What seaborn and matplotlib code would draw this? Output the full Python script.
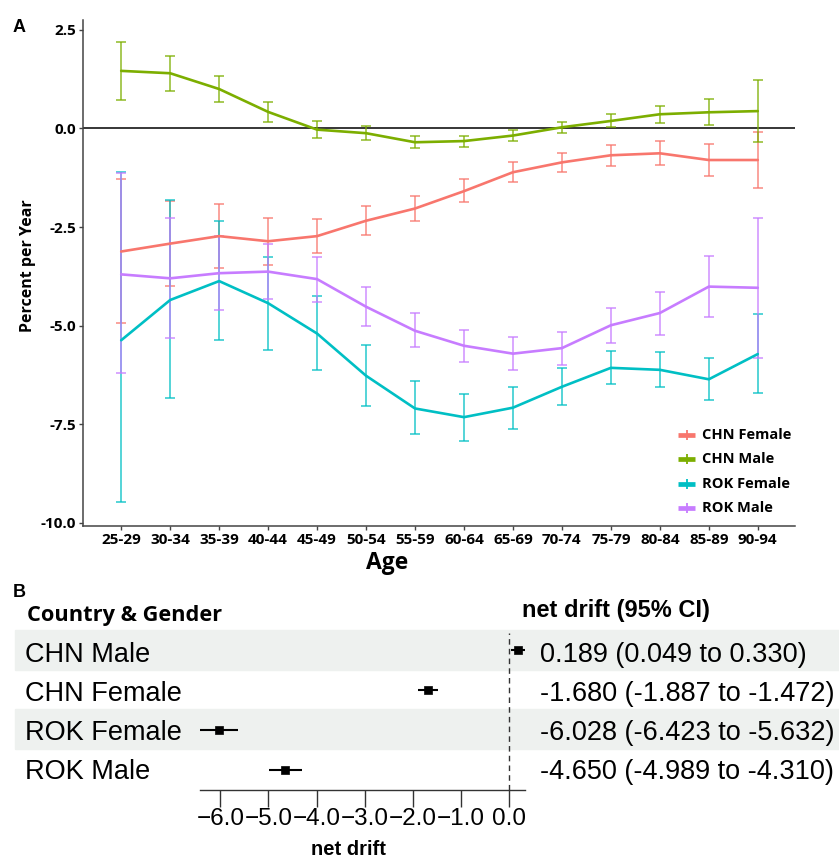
import numpy as np
import pandas as pd
import matplotlib
matplotlib.use('Agg')
import matplotlib.pyplot as plt
import seaborn as sns
from matplotlib.patches import Rectangle
from matplotlib.lines import Line2D

# ---------------- data: panel A ----------------
ages = ['25-29', '30-34', '35-39', '40-44', '45-49', '50-54', '55-59',
        '60-64', '65-69', '70-74', '75-79', '80-84', '85-89', '90-94']
groups = ['CHN Female', 'CHN Male', 'ROK Female', 'ROK Male']
colors = ['#F8766D', '#7CAE00', '#00BFC4', '#C77CFF']

chn_f_est = [-3.12, -2.92, -2.73, -2.86, -2.73, -2.34, -2.03, -1.59, -1.11, -0.86, -0.68, -0.63, -0.80, -0.80]
chn_f_lo  = [-4.93, -4.00, -3.53, -3.45, -3.17, -2.70, -2.35, -1.87, -1.36, -1.11, -0.95, -0.93, -1.20, -1.52]
chn_f_hi  = [-1.27, -1.84, -1.92, -2.27, -2.29, -1.97, -1.71, -1.29, -0.84, -0.61, -0.42, -0.33, -0.40, -0.08]

chn_m_est = [1.46, 1.40, 1.00, 0.42, -0.03, -0.12, -0.35, -0.32, -0.18, 0.03, 0.19, 0.36, 0.41, 0.44]
chn_m_lo  = [0.73, 0.96, 0.68, 0.17, -0.23, -0.30, -0.50, -0.46, -0.31, -0.12, 0.03, 0.14, 0.08, -0.35]
chn_m_hi  = [2.20, 1.84, 1.33, 0.68, 0.19, 0.05, -0.19, -0.19, -0.05, 0.16, 0.36, 0.56, 0.75, 1.23]

rok_f_est = [-5.37, -4.35, -3.87, -4.43, -5.20, -6.27, -7.10, -7.32, -7.08, -6.55, -6.07, -6.12, -6.36, -5.72]
rok_f_lo  = [-9.47, -6.83, -5.37, -5.61, -6.12, -7.04, -7.74, -7.92, -7.61, -7.01, -6.49, -6.55, -6.89, -6.72]
rok_f_hi  = [-1.10, -1.82, -2.34, -3.26, -4.26, -5.49, -6.41, -6.73, -6.55, -6.08, -5.65, -5.68, -5.83, -4.70]

rok_m_est = [-3.70, -3.80, -3.67, -3.63, -3.82, -4.52, -5.13, -5.51, -5.71, -5.57, -4.99, -4.68, -4.01, -4.04]
rok_m_lo  = [-6.21, -5.32, -4.61, -4.33, -4.39, -5.00, -5.54, -5.93, -6.13, -5.99, -5.43, -5.23, -4.79, -5.81]
rok_m_hi  = [-1.12, -2.26, -2.73, -2.92, -3.26, -4.03, -4.68, -5.11, -5.30, -5.15, -4.54, -4.14, -3.23, -2.26]

y_ticks = [-10.0, -7.5, -5.0, -2.5, 0.0, 2.5]

# ---------------- data: panel B ----------------
fp_labels = ['CHN Male', 'CHN Female', 'ROK Female', 'ROK Male']
fp_est = [0.189, -1.680, -6.028, -4.650]
fp_lo  = [0.049, -1.887, -6.423, -4.989]
fp_hi  = [0.330, -1.472, -5.632, -4.310]
fp_ticks = [-6.0, -5.0, -4.0, -3.0, -2.0, -1.0, 0.0]

# ---------------- setup ----------------
sns.set_theme(style='white')
plt.rcParams['font.family'] = ['Open Sans', 'DejaVu Sans']
plt.rcParams['text.color'] = 'black'
plt.rcParams['axes.labelcolor'] = 'black'
plt.rcParams['xtick.color'] = 'black'
plt.rcParams['ytick.color'] = 'black'
ARIAL = ['Liberation Sans', 'DejaVu Sans']

W, H = 839, 859
fig = plt.figure(figsize=(W / 100, H / 100), dpi=100)
fig.patch.set_facecolor('white')


def fx(x):
    return x / W


def fy(y):
    return 1 - y / H


# ---------------- panel A ----------------
est_all = [chn_f_est, chn_m_est, rok_f_est, rok_m_est]
lo_all = [chn_f_lo, chn_m_lo, rok_f_lo, rok_m_lo]
hi_all = [chn_f_hi, chn_m_hi, rok_f_hi, rok_m_hi]

rows = []
for g, e, lo, hi in zip(groups, est_all, lo_all, hi_all):
    for i, a in enumerate(ages):
        rows.append(dict(group=g, age=a, pos=i, est=e[i], lo=lo[i], hi=hi[i]))
df = pd.DataFrame(rows)

ax = fig.add_axes([fx(83), fy(526), fx(795) - fx(83), fy(20) - fy(526)])
ax.axhline(0, color='black', lw=1.1, zorder=1)

for g, c in zip(groups, colors):
    d = df[df.group == g]
    ax.errorbar(d.pos, d.est, yerr=[d.est - d.lo, d.hi - d.est], fmt='none',
                ecolor=c, elinewidth=1.1, capsize=3.6, capthick=1.1, alpha=0.85, zorder=2)

sns.lineplot(data=df, x='pos', y='est', hue='group', hue_order=groups, palette=colors,
             lw=1.9, legend=False, ax=ax, estimator=None, sort=False, zorder=3)

ax.set_xlim(-0.78, 13.76)
ax.set_ylim(-10.08, 2.75)
ax.set_xticks(range(len(ages)))
ax.set_xticklabels(ages)
ax.set_yticks(y_ticks)
ax.set_yticklabels([f'{v:.1f}' for v in y_ticks])
ax.tick_params(axis='both', direction='out', length=3, width=1, color='#444444',
               labelsize=11, pad=2, bottom=True, left=True, labelcolor='black')
for lbl in ax.get_xticklabels() + ax.get_yticklabels():
    lbl.set_fontweight('bold')
for s in ['top', 'right']:
    ax.spines[s].set_visible(False)
for s in ['left', 'bottom']:
    ax.spines[s].set_color('#444444')
    ax.spines[s].set_linewidth(1.1)
ax.set_xlabel('')
ax.set_ylabel('Percent per Year', fontsize=11.5, fontweight='bold', color='black')
ax.yaxis.set_label_coords((36 - 83) / 712, (526 - 266) / 506)
fig.text(fx(387), fy(563), 'Age', fontsize=16.5, fontweight='bold', ha='center', va='center')

# legend (manual)
for i, (g, c) in enumerate(zip(groups, colors)):
    yy = 435 + 24.3 * i
    fig.add_artist(Line2D([fx(678), fx(695)], [fy(yy), fy(yy)], color=c, lw=3.4,
                          transform=fig.transFigure, solid_capstyle='butt'))
    fig.add_artist(Line2D([fx(686.5)], [fy(yy)], color=c, marker='|', markersize=7,
                          mew=1.3, transform=fig.transFigure))
    fig.text(fx(702), fy(yy), g, fontsize=10.5, fontweight='bold', ha='left', va='center')

fig.text(fx(13), fy(32), 'A', fontsize=13, fontweight='bold', family=ARIAL, ha='left', va='baseline')

# ---------------- panel B ----------------
fig.text(fx(13), fy(597), 'B', fontsize=13, fontweight='bold', family=ARIAL, ha='left', va='baseline')
fig.text(fx(27), fy(621), 'Country & Gender', fontsize=15.7, fontweight='bold', ha='left', va='baseline')
fig.text(fx(522), fy(617), 'net drift (95% CI)', fontsize=17, fontweight='bold', family=ARIAL,
         ha='left', va='baseline')

row_top = 630
row_h = 39.7
for i in range(len(fp_labels)):
    if i % 2 == 0:
        fig.add_artist(Rectangle((fx(15), fy(row_top + row_h * (i + 1))), fx(839) - fx(15), row_h / H,
                                 transform=fig.transFigure, color='#eef1ef', zorder=-1))

fax = fig.add_axes([fx(200), fy(790), fx(525) - fx(200), fy(630) - fy(790)])
fax.patch.set_alpha(0)
ypos = np.arange(len(fp_labels))
fax.hlines(ypos, fp_lo, fp_hi, color='black', lw=1.5, zorder=3)
sns.scatterplot(x=fp_est, y=ypos, marker='s', s=36, color='black', edgecolor='black',
                ax=fax, zorder=4, legend=False)
fax.axvline(0, ymin=0, ymax=0.98, color='#333333', lw=1, ls=(0, (4, 3)), zorder=2)
fax.set_xlim(-6.423, 0.330)
fax.set_ylim(3.5, -0.5)
fax.set_yticks([])
fax.set_xticks(fp_ticks)
fax.set_xticklabels([f'{v:.1f}'.replace('-', '\u2212') for v in fp_ticks], family=ARIAL)
fax.tick_params(axis='x', direction='out', length=12, width=1, color='#333333',
                labelsize=17.5, pad=1, bottom=True, labelcolor='black')
for s in ['top', 'right', 'left']:
    fax.spines[s].set_visible(False)
fax.spines['bottom'].set_color('#333333')
fax.spines['bottom'].set_linewidth(1)
fig.text(fx(348), fy(855), 'net drift', fontsize=14.5, fontweight='bold', family=ARIAL,
         ha='center', va='baseline')

for i, (lab, e, lo, hi) in enumerate(zip(fp_labels, fp_est, fp_lo, fp_hi)):
    base = 661.5 + 39.1 * i
    fig.text(fx(25), fy(base), lab, fontsize=19.5, family=ARIAL, ha='left', va='baseline')
    fig.text(fx(540), fy(base), f'{e:.3f} ({lo:.3f} to {hi:.3f})', fontsize=19.5, family=ARIAL,
             ha='left', va='baseline')

fig.savefig('out.png', dpi=100, facecolor='white')
